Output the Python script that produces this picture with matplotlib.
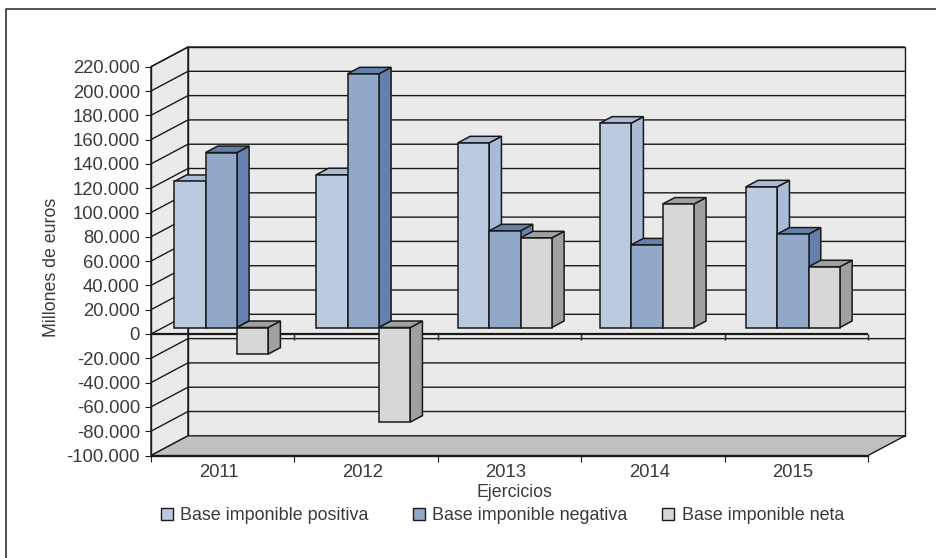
"""
Bases imponibles por ejercicio: pseudo-3D column chart, spreadsheet style.
The depth is faked with polygons offset in data units.
"""
import matplotlib
matplotlib.use("Agg")
import matplotlib.pyplot as plt
from matplotlib.lines import Line2D
from matplotlib.patches import Patch

plt.rcParams["font.family"] = ["Liberation Sans", "DejaVu Sans"]

YEARS = ["2011", "2012", "2013", "2014", "2015"]
POSITIVA = [120200, 125700, 152000, 168200, 115800]
NEGATIVA = [144000, 208800, 79600, 68000, 76900]
NETA = [-21900, -77900, 73800, 101600, 50000]
SERIES_NAMES = ["Base imponible positiva", "Base imponible negativa", "Base imponible neta"]
Y_TICKS = list(range(-100000, 220001, 20000))
Y_LABELS = ["-100.000", "-80.000", "-60.000", "-40.000", "-20.000", "0", "20.000", "40.000",
            "60.000", "80.000", "100.000", "120.000", "140.000", "160.000", "180.000",
            "200.000", "220.000"]

W, H = 937, 558
TEXT = "#3a3a3a"
INK = "#1a1a1a"
WALL = "#eaeaea"
FLOOR = "#c0c0c0"

# front colour, side/top colour
COLORS = [("#bccadf", "#a9bbd6"), ("#92a8c8", "#6480ad"), ("#d7d7d7", "#a0a0a0")]

# depth of the whole box, in data units
DX, DY = 0.258, 16200
# bars sit a third of the way into the box and are a third deep
BAR_DEPTH = 0.33
BAR_W = 0.2185
# the groups are not quite evenly spaced in the original
BAR_START = [0.0767, 0.067, 0.055, 0.045, 0.0635]
# legend entries, pixel x of each marker
LEGEND_X = [160.5, 412.7, 662]

fig = plt.figure(figsize=(W / 100, H / 100), dpi=100)
ax = fig.add_axes([151 / W, 1 - 455.5 / H, 717 / W, (455.5 - 66.7) / H])
ax.set_xlim(0, 5)
ax.set_ylim(-100000, 220000)
ax.patch.set_visible(False)

y0, y1 = Y_TICKS[0], Y_TICKS[-1]


def poly(xs, ys, color, z, edge=INK, lw=1.1):
    ax.fill(xs, ys, facecolor=color, edgecolor=edge, linewidth=lw, zorder=z,
            clip_on=False, joinstyle="miter")


def line(xs, ys, z=1.5, lw=1.0, color=INK):
    ax.plot(xs, ys, color=color, linewidth=lw, zorder=z, clip_on=False, solid_capstyle="butt")


def bar3d(x, val, front, side, z):
    ox = DX * BAR_DEPTH
    oy = DY * BAR_DEPTH
    low, high = min(0, val), max(0, val)
    xa, xb = x + ox, x + ox + BAR_W
    ya, yb = low + oy, high + oy
    # right side, top, then front
    poly([xb, xb + ox, xb + ox, xb], [ya, ya + oy, yb + oy, yb], side, z)
    poly([xa, xa + ox, xb + ox, xb], [yb, yb + oy, yb + oy, yb], side, z)
    poly([xa, xb, xb, xa], [ya, ya, yb, yb], front, z)


# walls and floor
poly([0, DX, DX, 0], [y0, y0 + DY, y1 + DY, y1], WALL, 1, lw=1.0)
poly([DX, 5 + DX, 5 + DX, DX], [y0 + DY, y0 + DY, y1 + DY, y1 + DY], WALL, 1, lw=1.0)
poly([0, DX, 5 + DX, 5], [y0, y0 + DY, y0 + DY, y0], FLOOR, 1.2, lw=1.0)

for t in Y_TICKS[1:]:
    line([0, DX, 5 + DX], [t, t + DY, t + DY])

# zero line with its own ticks
line([0, 5], [0, 0], z=2, lw=1.6)
for i in range(1, 6):
    line([i, i], [0, -5000], z=2)

z = 3.0
for i in range(len(YEARS)):
    for j, vals in enumerate([POSITIVA, NEGATIVA, NETA]):
        front, side = COLORS[j]
        bar3d(i + BAR_START[i] + j * BAR_W, vals[i], front, side, z)
        z += 0.01

# axes furniture
for name in ("top", "right"):
    ax.spines[name].set_visible(False)
for name in ("left", "bottom"):
    ax.spines[name].set_color(INK)
    ax.spines[name].set_linewidth(1.0)
    ax.spines[name].set_zorder(2.5)

ax.set_yticks(Y_TICKS)
ax.set_yticklabels(Y_LABELS)
ax.tick_params(axis="y", length=4.5, width=0.8, color=INK, labelcolor=TEXT, labelsize=13.3, pad=3.5)
ax.set_xticks(range(6))
ax.set_xticklabels([])
ax.set_xticks([i + 0.475 for i in range(5)], labels=YEARS, minor=True)
ax.tick_params(axis="x", which="major", length=4.5, width=0.8, color=INK)
ax.tick_params(axis="x", which="minor", length=0, labelcolor=TEXT, labelsize=13.3, pad=6)

fig.text(51.5 / W, 1 - 267 / H, "Millones de euros", rotation=90, ha="center", va="center",
         color=TEXT, fontsize=12.8)
fig.text(514 / W, 1 - 492.5 / H, "Ejercicios", ha="center", va="center", color=TEXT, fontsize=12.8)

for name, c, px in zip(SERIES_NAMES, COLORS, LEGEND_X):
    handle = Patch(facecolor=c[0], edgecolor=INK, linewidth=1.0)
    fig.legend([handle], [name], frameon=False, fontsize=12.9, labelcolor=TEXT,
               loc="center left", bbox_to_anchor=(px / W, 1 - 516 / H), borderpad=0, borderaxespad=0,
               handlelength=0.67, handleheight=0.67, handletextpad=0.42)

# page frame: only the top and left rules are on the page
fig.add_artist(Line2D([6 / W, 6 / W, 1], [0, 1 - 9 / H, 1 - 9 / H], color="#222222", linewidth=1.1))

fig.savefig("out.png", dpi=100)
